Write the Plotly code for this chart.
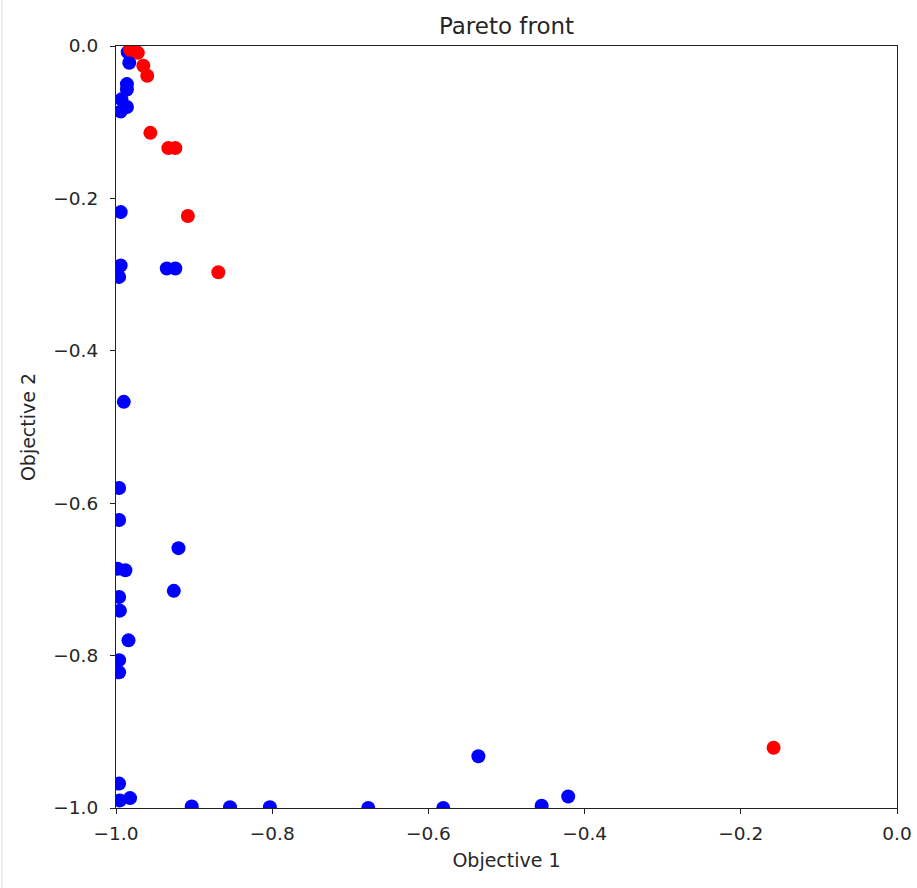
import plotly.graph_objects as go

# Blue points (Objective 1, Objective 2)
blue_x = [-0.985, -0.983, -0.986, -0.986, -0.993, -0.986, -0.994,
          -0.994, -0.994, -0.996, -0.935, -0.924,
          -0.990, -0.996, -0.996, -0.920, -0.998, -0.988, -0.926,
          -0.996, -0.995, -0.984, -0.996, -0.996,
          -0.996, -0.995, -0.982, -0.903, -0.854, -0.803,
          -0.677, -0.581, -0.536, -0.455, -0.421]
blue_y = [-0.008, -0.022, -0.050, -0.057, -0.070, -0.080, -0.086,
          -0.218, -0.288, -0.303, -0.292, -0.292,
          -0.467, -0.580, -0.622, -0.659, -0.686, -0.688, -0.715,
          -0.723, -0.741, -0.780, -0.806, -0.822,
          -0.968, -0.990, -0.987, -0.998, -0.999, -0.999,
          -1.000, -1.000, -0.932, -0.997, -0.985]

# Red points
red_x = [-0.982, -0.977, -0.972, -0.965, -0.960, -0.956, -0.933, -0.924,
         -0.908, -0.869, -0.158]
red_y = [-0.005, -0.004, -0.009, -0.026, -0.039, -0.114, -0.134, -0.134,
         -0.223, -0.297, -0.921]

title_text = "Pareto front"
x_label = "Objective 1"
y_label = "Objective 2"
tick_vals = [-1.0, -0.8, -0.6, -0.4, -0.2, 0.0]

FONT = "DejaVu Sans"
TXT = "#262626"

fig = go.Figure()
fig.add_trace(go.Scatter(x=blue_x, y=blue_y, mode="markers",
                         marker=dict(color="#0000ff", size=14, line=dict(width=0)),
                         showlegend=False))
fig.add_trace(go.Scatter(x=red_x, y=red_y, mode="markers",
                         marker=dict(color="#ff0000", size=14, line=dict(width=0)),
                         showlegend=False))

axis_common = dict(
    range=[-1.0, 0.0], tickvals=tick_vals, tickformat=".1f",
    showgrid=False, zeroline=False, showline=True, mirror=True,
    linecolor="#222222", linewidth=1.2, ticks="outside", ticklen=5,
    tickcolor="#222222", tickwidth=1.2, automargin=False,
    tickfont=dict(family=FONT, size=18.5, color=TXT),
)

fig.update_layout(
    width=917, height=888,
    margin=dict(l=116, r=20, t=46, b=80),
    paper_bgcolor="white", plot_bgcolor="white",
    title=dict(text=title_text, x=(116 + 897) / 2 / 917, xanchor="center",
               y=1 - 26 / 888, yanchor="middle",
               font=dict(family=FONT, size=23, color=TXT)),
    xaxis=dict(**axis_common, ticklabelstandoff=4,
               title=dict(text=x_label, standoff=10,
                          font=dict(family=FONT, size=19, color=TXT))),
    yaxis=dict(**axis_common, ticklabelstandoff=8,
               title=dict(text=y_label, standoff=12,
                          font=dict(family=FONT, size=19, color=TXT))),
    shapes=[dict(type="line", xref="paper", yref="paper",
                 x0=-114 / 781, x1=-114 / 781, y0=-80 / 762, y1=1 + 46 / 762,
                 line=dict(color="#dddddd", width=1))],
)

fig.write_html("out.html")
